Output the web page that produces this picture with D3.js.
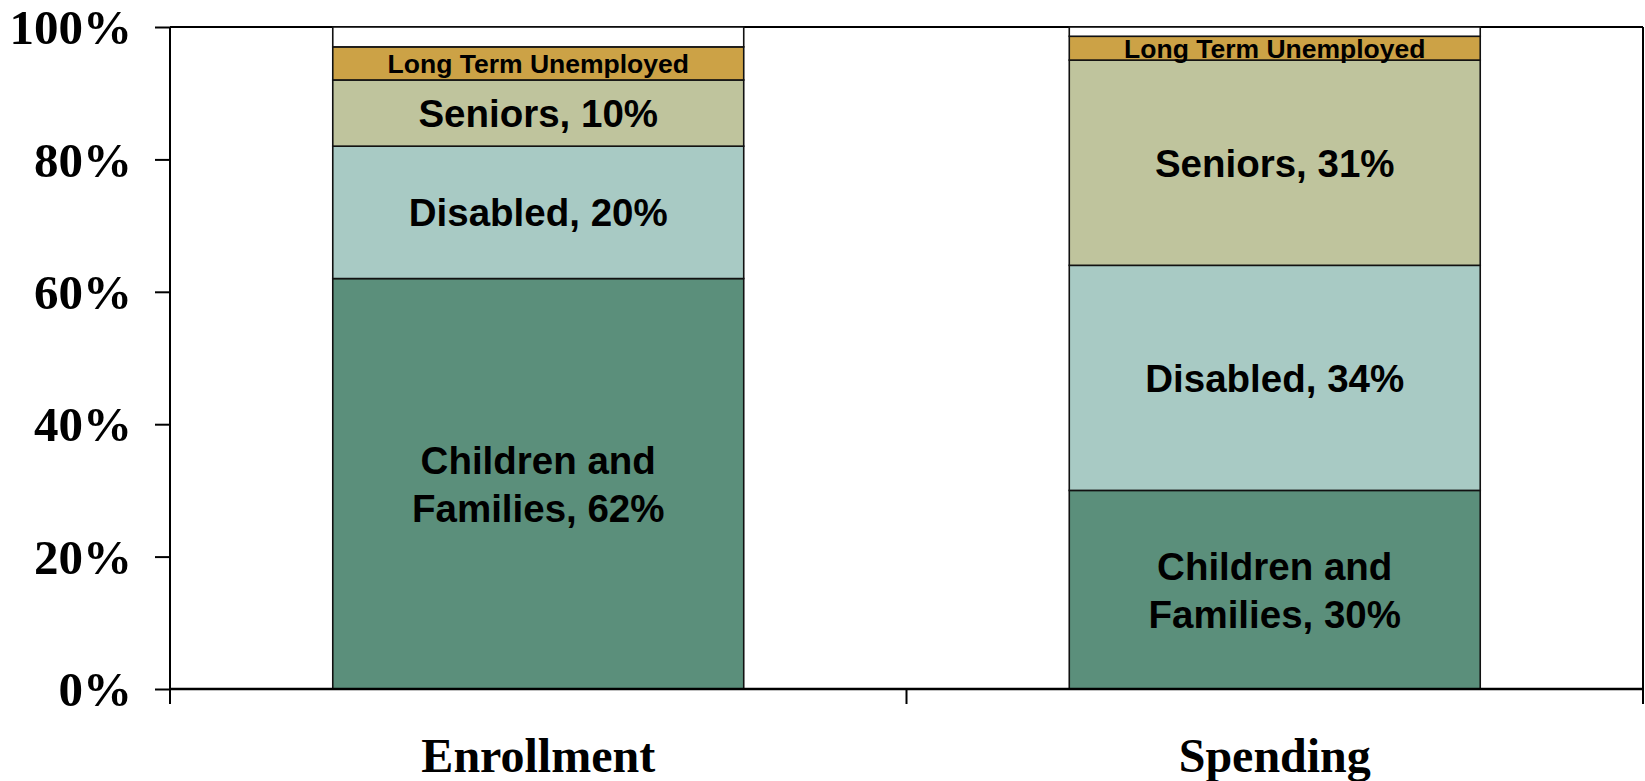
<!DOCTYPE html>
<html><head><meta charset="utf-8">
<script src="https://cdn.jsdelivr.net/npm/d3@7"></script>
<style>html,body{margin:0;padding:0;background:#fff;}svg{display:block;}</style>
</head><body>
<svg id="chart" width="1645" height="781"></svg>
<script>
const categories = ["Enrollment", "Spending"];
const seriesNames = ["Children and Families", "Disabled", "Seniors", "Long Term Unemployed", "Other"];
const childrenFamilies = [62, 30];
const disabled = [20, 34];
const seniors = [10, 31];
const longTermUnemployed = [5, 3.6];
const other = [3, 1.4];
const yTicks = [0, 20, 40, 60, 80, 100];
const segLabels = [
  [["Children and", "Families, 62%"], ["Disabled, 20%"], ["Seniors, 10%"], ["Long Term Unemployed"], []],
  [["Children and", "Families, 30%"], ["Disabled, 34%"], ["Seniors, 31%"], ["Long Term Unemployed"], []]
];
const colors = ["#5B8F7B", "#A8CAC4", "#BFC49D", "#CCA246", "#FFFFFF"];

(function () {
const svg = d3.select("#chart");
const pLeft = 170, pRight = 1643, pTop = 27, pBottom = 689;

const x = d3.scaleBand().domain(categories).range([pLeft, pRight]).paddingInner(0.442).paddingOuter(0.221);
const y = d3.scaleLinear().domain([0, 100]).range([pBottom, pTop]);

const table = categories.map((c, i) => ({
  cat: c,
  "Children and Families": childrenFamilies[i],
  "Disabled": disabled[i],
  "Seniors": seniors[i],
  "Long Term Unemployed": longTermUnemployed[i],
  "Other": other[i]
}));
const stacked = d3.stack().keys(seriesNames)(table);

// plot border (top & right)
svg.append("line").attr("x1", pLeft).attr("x2", pRight).attr("y1", pTop).attr("y2", pTop)
  .attr("stroke", "#000").attr("stroke-width", 2);
svg.append("line").attr("x1", pRight).attr("x2", pRight).attr("y1", pTop).attr("y2", pBottom)
  .attr("stroke", "#000").attr("stroke-width", 2);

// bars
stacked.forEach((layer, si) => {
  svg.append("g").selectAll("rect").data(layer).join("rect")
    .attr("x", d => x(d.data.cat))
    .attr("width", x.bandwidth())
    .attr("y", d => y(d[1]))
    .attr("height", d => y(d[0]) - y(d[1]))
    .attr("fill", colors[si])
    .attr("stroke", "#111")
    .attr("stroke-width", 1.6);
});

// segment labels
stacked.forEach((layer, si) => {
  layer.forEach((d, ci) => {
    const lines = segLabels[ci][si];
    if (!lines.length) return;
    const cx = x(d.data.cat) + x.bandwidth() / 2;
    const cy = (y(d[0]) + y(d[1])) / 2;
    const small = si === 3;
    const fs = small ? 26.5 : 38.5;
    const lh = small ? 0 : 48;
    const t = svg.append("text")
      .attr("text-anchor", "middle")
      .attr("font-family", "'Liberation Sans', Arial, sans-serif")
      .attr("font-weight", "bold")
      .attr("font-size", fs)
      .attr("fill", "#000");
    lines.forEach((ln, k) => {
      t.append("tspan").attr("x", cx)
        .attr("y", cy + (k - (lines.length - 1) / 2) * lh)
        .attr("dy", "0.36em")
        .text(ln);
    });
  });
});

// y axis
const yAxis = svg.append("g").attr("transform", `translate(${pLeft},0)`)
  .call(d3.axisLeft(y).tickValues(yTicks).tickFormat(d => d + "%").tickSize(15).tickPadding(23));
yAxis.select(".domain").attr("d", `M0,${pTop}V${pBottom + 15}`).attr("stroke", "#000").attr("stroke-width", 2);
yAxis.selectAll(".tick line").attr("stroke", "#000").attr("stroke-width", 2);
yAxis.selectAll(".tick text")
  .attr("font-family", "'Liberation Serif', 'Times New Roman', serif")
  .attr("font-weight", "bold").attr("font-size", 49).attr("fill", "#000").attr("dy", "0.34em");

// x axis
const xAxis = svg.append("g").attr("transform", `translate(0,${pBottom})`)
  .call(d3.axisBottom(x).tickSize(0).tickPadding(0));
xAxis.select(".domain").attr("d", `M${pLeft},0H${pRight}`).attr("stroke", "#000").attr("stroke-width", 2.5);
xAxis.selectAll(".tick line").remove();
xAxis.selectAll(".tick text")
  .attr("font-family", "'Liberation Serif', 'Times New Roman', serif")
  .attr("font-weight", "bold").attr("font-size", 48).attr("fill", "#000")
  .attr("dy", null).attr("y", 83);
// boundary ticks between categories
const bounds = [pLeft, (x(categories[0]) + x.bandwidth() + x(categories[1])) / 2, pRight];
xAxis.append("g").selectAll("line").data(bounds).join("line")
  .attr("x1", d => d).attr("x2", d => d).attr("y1", 0).attr("y2", 15)
  .attr("stroke", "#000").attr("stroke-width", 2);
})();
</script>
</body></html>
